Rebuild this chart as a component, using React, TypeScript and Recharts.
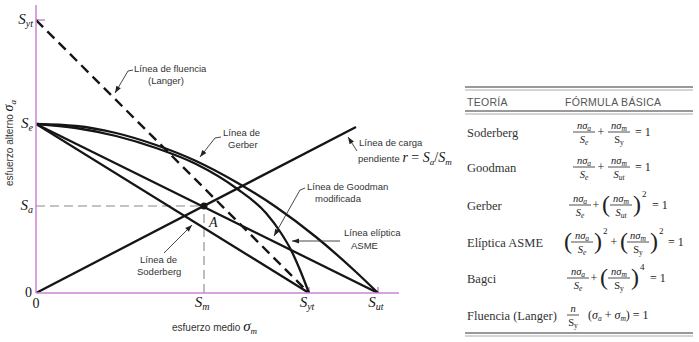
import React from 'react';
import {
  ComposedChart,
  Line,
  XAxis,
  YAxis,
  ReferenceLine,
  ReferenceDot,
} from 'recharts';

// points (units = stress, same scale on both axes)
const gerberX = [0, 40, 80, 120, 160, 200, 240, 280, 320, 342];
const gerberY = [169, 167, 160, 148, 132, 111, 86, 56, 21, 0];

const asmeX = [0, 40, 80, 120, 160, 200, 230, 245, 255, 264, 273];
const asmeY = [169, 165, 157, 145, 129, 105, 80, 60, 43, 23, 0];

const goodmanX = [0, 342];
const goodmanY = [169, 0];

const soderbergX = [0, 273];
const soderbergY = [169, 0];

const langerX = [0, 273];
const langerY = [273, 0];

const loadX = [0, 320];
const loadY = [0, 166];

const pointA = { x: 168, y: 87 };

const xTicks = [0, 168, 273, 342];
const xTickSubs = ['', 'm', 'yt', 'ut'];
const yTicks = [0, 87, 169, 273];
const yTickSubs = ['', 'a', 'e', 'yt'];

const theories = ['Soderberg', 'Goodman', 'Gerber', 'Elíptica ASME', 'Bagci', 'Fluencia (Langer)'];

const toPoints = (xs: number[], ys: number[]) => xs.map((x, i) => ({ x, y: ys[i] }));

const AXIS = '#c984d6';
const INK = '#151515';
const SERIF = '"Liberation Serif", "Times New Roman", serif';
const SANS = '"Liberation Sans", Arial, sans-serif';

const XTick = (props: any) => {
  const { x, y, payload } = props;
  const sub = xTickSubs[xTicks.indexOf(payload.value)];
  if (!sub) {
    return (
      <text x={x} y={y + 15} textAnchor="middle" fontFamily={SERIF} fontSize={14} fill={INK}>0</text>
    );
  }
  return (
    <text x={x - 2} y={y + 14} textAnchor="middle" fontFamily={SERIF} fontSize={15} fontStyle="italic" fill={INK}>
      S<tspan fontSize={10} dy={3}>{sub}</tspan>
    </text>
  );
};

const YTick = (props: any) => {
  const { x, y, payload } = props;
  const sub = yTickSubs[yTicks.indexOf(payload.value)];
  if (!sub) {
    return (
      <text x={x - 4} y={y + 4} textAnchor="end" fontFamily={SERIF} fontSize={14} fill={INK}>0</text>
    );
  }
  return (
    <text x={x - 3} y={y + 4} textAnchor="end" fontFamily={SERIF} fontSize={15} fontStyle="italic" fill={INK}>
      S<tspan fontSize={10} dy={3}>{sub}</tspan>
    </text>
  );
};

const Leader = ({ pts }: { pts: number[][] }) => {
  const [x1, y1] = pts[pts.length - 2];
  const [x2, y2] = pts[pts.length - 1];
  const a = Math.atan2(y2 - y1, x2 - x1);
  const L = 7;
  const W = 2.6;
  const bx = x2 - L * Math.cos(a);
  const by = y2 - L * Math.sin(a);
  const head = [
    [x2, y2],
    [bx + W * Math.sin(a), by - W * Math.cos(a)],
    [bx - W * Math.sin(a), by + W * Math.cos(a)],
  ];
  return (
    <g>
      <polyline points={pts.map((p) => p.join(',')).join(' ')} fill="none" stroke="#333" strokeWidth={0.9} />
      <polygon points={head.map((p) => p.join(',')).join(' ')} fill="#222" />
    </g>
  );
};

const Note = ({ x, y, children }: { x: number; y: number; children: React.ReactNode }) => (
  <text x={x} y={y} fontFamily={SANS} fontSize={9.5} fill="#333">{children}</text>
);

const Frac = ({ cx, cy, num, den, w = 22 }: { cx: number; cy: number; num: React.ReactNode; den: React.ReactNode; w?: number }) => (
  <g>
    <text x={cx} y={cy - 3} textAnchor="middle" fontFamily={SERIF} fontSize={10.5} fontStyle="italic" fill="#222">{num}</text>
    <line x1={cx - w / 2} x2={cx + w / 2} y1={cy} y2={cy} stroke="#222" strokeWidth={0.8} />
    <text x={cx} y={cy + 11} textAnchor="middle" fontFamily={SERIF} fontSize={10.5} fill="#222">{den}</text>
  </g>
);

const T = ({ x, y, size = 12, anchor = 'start', children }: { x: number; y: number; size?: number; anchor?: 'start' | 'middle'; children: React.ReactNode }) => (
  <text x={x} y={y} textAnchor={anchor} fontFamily={SERIF} fontSize={size} fill="#222">{children}</text>
);

const Paren = ({ x, y, c }: { x: number; y: number; c: string }) => (
  <text x={x} y={y + 7} fontFamily={SERIF} fontSize={24} fill="#222" fontWeight={300}>{c}</text>
);

const nsa = <><tspan>nσ</tspan><tspan fontSize={7.5} dy={2}>a</tspan></>;
const nsm = <><tspan>nσ</tspan><tspan fontSize={7.5} dy={2}>m</tspan></>;
const Se = <><tspan fontStyle="italic">S</tspan><tspan fontSize={7.5} dy={2} fontStyle="italic">e</tspan></>;
const Sy = <><tspan>S</tspan><tspan fontSize={7.5} dy={2}>y</tspan></>;
const Sut = <><tspan fontStyle="italic">S</tspan><tspan fontSize={7.5} dy={2} fontStyle="italic">ut</tspan></>;

const DoubleRule = ({ y }: { y: number }) => (
  <g>
    <line x1={465} x2={693} y1={y} y2={y} stroke="#777" strokeWidth={1.6} />
    <line x1={465} x2={693} y1={y + 3} y2={y + 3} stroke="#aaa" strokeWidth={1} />
  </g>
);

const Table = () => {
  const rowY = [132, 167, 205, 242, 278, 315];
  return (
    <g>
      <DoubleRule y={87} />
      <text x={467} y={106} fontFamily={SANS} fontSize={10.5} fill="#555" letterSpacing={0.3}>TEORÍA</text>
      <text x={565} y={106} fontFamily={SANS} fontSize={10.5} fill="#555" letterSpacing={0.3}>FÓRMULA BÁSICA</text>
      <DoubleRule y={111} />
      {theories.map((t, i) => (
        <text key={t} x={467} y={rowY[i] + 5} fontFamily={SERIF} fontSize={12.5} fill="#333">{t}</text>
      ))}
      {/* Soderberg */}
      <Frac cx={584} cy={rowY[0]} num={nsa} den={Se} />
      <T x={601} y={rowY[0] + 4} anchor="middle">+</T>
      <Frac cx={619} cy={rowY[0]} num={nsm} den={Sy} />
      <T x={635} y={rowY[0] + 4}>= 1</T>
      {/* Goodman */}
      <Frac cx={584} cy={rowY[1]} num={nsa} den={Se} />
      <T x={601} y={rowY[1] + 4} anchor="middle">+</T>
      <Frac cx={619} cy={rowY[1]} num={nsm} den={Sut} />
      <T x={635} y={rowY[1] + 4}>= 1</T>
      {/* Gerber */}
      <Frac cx={580} cy={rowY[2]} num={nsa} den={Se} />
      <T x={596} y={rowY[2] + 4} anchor="middle">+</T>
      <Paren x={602} y={rowY[2]} c="(" />
      <Frac cx={621} cy={rowY[2]} num={nsm} den={Sut} />
      <Paren x={633} y={rowY[2]} c=")" />
      <T x={642} y={rowY[2] - 8} size={9}>2</T>
      <T x={652} y={rowY[2] + 4}>= 1</T>
      {/* Eliptica ASME */}
      <Paren x={564} y={rowY[3]} c="(" />
      <Frac cx={582} cy={rowY[3]} num={nsa} den={Se} />
      <Paren x={594} y={rowY[3]} c=")" />
      <T x={603} y={rowY[3] - 8} size={9}>2</T>
      <T x={614} y={rowY[3] + 4} anchor="middle">+</T>
      <Paren x={620} y={rowY[3]} c="(" />
      <Frac cx={638} cy={rowY[3]} num={nsm} den={Sy} />
      <Paren x={650} y={rowY[3]} c=")" />
      <T x={659} y={rowY[3] - 8} size={9}>2</T>
      <T x={668} y={rowY[3] + 4}>= 1</T>
      {/* Bagci */}
      <Frac cx={578} cy={rowY[4]} num={nsa} den={Se} />
      <T x={594} y={rowY[4] + 4} anchor="middle">+</T>
      <Paren x={600} y={rowY[4]} c="(" />
      <Frac cx={619} cy={rowY[4]} num={nsm} den={Sy} />
      <Paren x={631} y={rowY[4]} c=")" />
      <T x={640} y={rowY[4] - 8} size={9}>4</T>
      <T x={650} y={rowY[4] + 4}>= 1</T>
      {/* Fluencia (Langer) */}
      <Frac cx={573} cy={rowY[5]} num={<tspan>n</tspan>} den={Sy} w={12} />
      <text x={588} y={rowY[5] + 4} fontFamily={SERIF} fontSize={12} fill="#222">
        (<tspan fontStyle="italic">σ</tspan><tspan fontSize={7.5} dy={2} fontStyle="italic">a</tspan>
        <tspan dy={-2}> + </tspan><tspan fontStyle="italic">σ</tspan><tspan fontSize={7.5} dy={2} fontStyle="italic">m</tspan>
        <tspan dy={-2}>) = 1</tspan>
      </text>
      <DoubleRule y={333} />
    </g>
  );
};

const Annotations = () => (
  <g>
    {/* axis titles */}
    <text transform="translate(13,143) rotate(-90)" textAnchor="middle" fontFamily={SANS} fontSize={10} fill="#333">
      esfuerzo alterno{' '}
      <tspan fontFamily={SERIF} fontStyle="italic" fontSize={14} fill={INK}>σ</tspan>
      <tspan fontFamily={SERIF} fontStyle="italic" fontSize={9} dy={3} fill={INK}>a</tspan>
    </text>
    <text x={172} y={331} fontFamily={SANS} fontSize={10} fill="#333">
      esfuerzo medio{' '}
      <tspan fontFamily={SERIF} fontStyle="italic" fontSize={15} fill={INK}>σ</tspan>
      <tspan fontFamily={SERIF} fontStyle="italic" fontSize={9} dy={3} fill={INK}>m</tspan>
    </text>
    <text x={209} y={227} fontFamily={SERIF} fontStyle="italic" fontSize={14} fill={INK}>A</text>

    <Note x={134} y={72}>Línea de fluencia</Note>
    <Note x={148} y={84}>(Langer)</Note>
    <Leader pts={[[133, 70], [128, 71], [115, 93]]} />

    <Note x={223} y={136}>Línea de</Note>
    <Note x={228} y={148}>Gerber</Note>
    <Leader pts={[[221, 137], [215, 138], [200, 157]]} />

    <Note x={359} y={146}>Línea de carga</Note>
    <text x={358} y={162} fontFamily={SANS} fontSize={9.5} fill="#333">
      pendiente{' '}
      <tspan fontFamily={SERIF} fontStyle="italic" fontSize={14} fill={INK}>r</tspan>
      <tspan fontFamily={SERIF} fontSize={14} fill={INK}> = </tspan>
      <tspan fontFamily={SERIF} fontStyle="italic" fontSize={14} fill={INK}>S</tspan>
      <tspan fontFamily={SERIF} fontStyle="italic" fontSize={9} dy={3} fill={INK}>a</tspan>
      <tspan fontFamily={SERIF} fontSize={14} dy={-3} fill={INK}>/</tspan>
      <tspan fontFamily={SERIF} fontStyle="italic" fontSize={14} fill={INK}>S</tspan>
      <tspan fontFamily={SERIF} fontStyle="italic" fontSize={9} dy={3} fill={INK}>m</tspan>
    </text>
    <Leader pts={[[357, 151], [348, 137]]} />

    <Note x={307} y={190}>Línea de Goodman</Note>
    <Note x={315} y={202}>modificada</Note>
    <Leader pts={[[305, 188], [300, 190], [274, 236]]} />

    <Note x={344} y={236}>Línea elíptica</Note>
    <Note x={351} y={249}>ASME</Note>
    <Leader pts={[[340, 241], [292, 241]]} />

    <Note x={140} y={263}>Línea de</Note>
    <Note x={137} y={275}>Soderberg</Note>
    <Leader pts={[[164, 253], [192, 225]]} />
  </g>
);

const App: React.FC = () => {
  const curves = [
    { key: 'gerber', data: toPoints(gerberX, gerberY), type: 'monotone' as const },
    { key: 'asme', data: toPoints(asmeX, asmeY), type: 'monotone' as const },
    { key: 'goodman', data: toPoints(goodmanX, goodmanY), type: 'linear' as const },
    { key: 'soderberg', data: toPoints(soderbergX, soderbergY), type: 'linear' as const },
    { key: 'load', data: toPoints(loadX, loadY), type: 'linear' as const },
  ];

  return (
    <div style={{ position: 'absolute', left: 0, top: 0, width: 699, height: 342, background: '#fff' }}>
      <ComposedChart width={699} height={342} margin={{ top: 5, right: 300, bottom: 0, left: 0 }}>
        <XAxis
          type="number"
          dataKey="x"
          domain={[0, 363]}
          ticks={xTicks}
          interval={0}
          height={49}
          tickSize={0}
          tickMargin={0}
          tickLine={false}
          axisLine={{ stroke: AXIS, strokeWidth: 1.5 }}
          tick={<XTick />}
          allowDataOverflow
        />
        <YAxis
          type="number"
          dataKey="y"
          domain={[0, 288]}
          ticks={yTicks}
          interval={0}
          width={36}
          tickSize={0}
          tickMargin={0}
          tickLine={false}
          axisLine={{ stroke: AXIS, strokeWidth: 1.5 }}
          tick={<YTick />}
          allowDataOverflow
        />
        {/* small marks at the yield / ultimate strengths */}
        <ReferenceLine segment={[{ x: 0, y: 273 }, { x: 9, y: 273 }]} stroke={AXIS} strokeWidth={1.5} />
        <ReferenceLine segment={[{ x: 273, y: 0 }, { x: 273, y: 6 }]} stroke={AXIS} strokeWidth={1.5} />
        <ReferenceLine segment={[{ x: 342, y: 0 }, { x: 342, y: 6 }]} stroke={AXIS} strokeWidth={1.5} />
        {/* projections of the operating point A */}
        <ReferenceLine segment={[{ x: 0, y: pointA.y }, { x: pointA.x, y: pointA.y }]} stroke="#888" strokeWidth={1.1} strokeDasharray="9 5" />
        <ReferenceLine segment={[{ x: pointA.x, y: 0 }, { x: pointA.x, y: pointA.y }]} stroke="#888" strokeWidth={1.1} strokeDasharray="9 5" />
        <Line
          data={toPoints(langerX, langerY)}
          dataKey="y"
          type="linear"
          stroke={INK}
          strokeWidth={2.4}
          strokeDasharray="10 6"
          dot={false}
          activeDot={false}
          isAnimationActive={false}
        />
        {curves.map((c) => (
          <Line
            key={c.key}
            data={c.data}
            dataKey="y"
            type={c.type}
            stroke={INK}
            strokeWidth={2.3}
            dot={false}
            activeDot={false}
            isAnimationActive={false}
          />
        ))}
        <ReferenceDot x={pointA.x} y={pointA.y} r={3.5} fill={INK} stroke="none" />
      </ComposedChart>
      <svg width={699} height={342} style={{ position: 'absolute', left: 0, top: 0, pointerEvents: 'none' }}>
        <Annotations />
        <Table />
      </svg>
    </div>
  );
};

export default App;
